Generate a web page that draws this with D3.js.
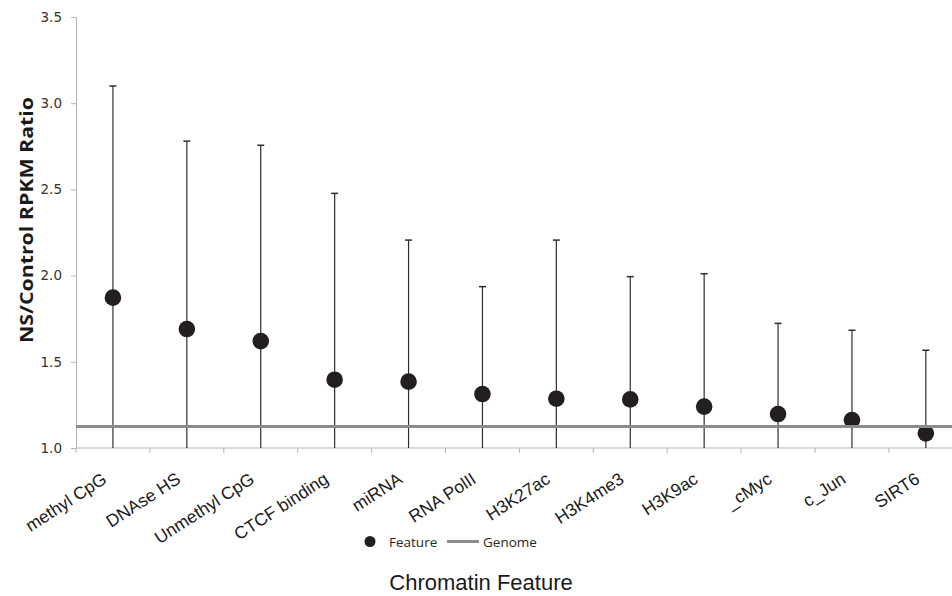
<!DOCTYPE html>
<html>
<head>
<meta charset="utf-8">
<script src="https://cdn.jsdelivr.net/npm/d3@7"></script>
<style>
  body { margin: 0; background: #fff; }
  svg { display: block; }
</style>
</head>
<body>
<div id="graph"></div>
<script>
// Datos
const features = ["methyl CpG", "DNAse HS", "Unmethyl CpG", "CTCF binding", "miRNA", "RNA PolII",
  "H3K27ac", "H3K4me3", "H3K9ac", "_cMyc", "c_Jun", "SIRT6"]
const ratios = [1.872, 1.69, 1.62, 1.396, 1.385, 1.313, 1.286, 1.282, 1.24, 1.197, 1.162, 1.085]
const errorTop = [3.10, 2.78, 2.756, 2.477, 2.206, 1.936, 2.206, 1.994, 2.011, 1.723, 1.683, 1.567]
const genomeRatio = 1.125
const yTicks = [1.0, 1.5, 2.0, 2.5, 3.0, 3.5]

const dimensions = { width: 952, height: 596 }
const margin = { left: 76, top: 17, bottom: 148 }
const bandWidth = 73.9

const svg = d3.select("#graph")
  .append("svg")
    .attr("width", dimensions.width)
    .attr("height", dimensions.height)

// Escalas
const xScale = d3.scaleBand()
  .domain(features)
  .range([margin.left, margin.left + bandWidth * features.length])
  .padding(0)

const yScale = d3.scaleLinear()
  .domain([1.0, 3.5])
  .range([dimensions.height - margin.bottom, margin.top])

const y0 = yScale(1.0)
const cx = d => xScale(d) + xScale.bandwidth() / 2

// Eje Y
const yAxis = svg.append("g")
  .attr("transform", `translate(${margin.left},0)`)
  .call(d3.axisLeft(yScale).tickValues(yTicks).tickFormat(d3.format(".1f")).tickSize(5).tickPadding(9))
yAxis.select(".domain").attr("stroke", "#b5b5b5")
yAxis.selectAll(".tick line").attr("stroke", "#b5b5b5")
yAxis.selectAll(".tick text")
  .attr("font-family", "'DejaVu Sans', sans-serif")
  .attr("font-size", 13.5)
  .attr("fill", "#333")

// Eje X (línea y marcas entre categorías)
const xAxis = svg.append("g")
xAxis.append("line")
  .attr("x1", margin.left).attr("x2", xScale.range()[1])
  .attr("y1", y0).attr("y2", y0)
  .attr("stroke", "#b5b5b5")
xAxis.selectAll("line.tick")
  .data(features.map(d => xScale(d)).concat([xScale.range()[1]]))
  .join("line")
    .attr("class", "tick")
    .attr("x1", d => d).attr("x2", d => d)
    .attr("y1", y0).attr("y2", y0 + 5)
    .attr("stroke", "#b5b5b5")

// Etiquetas rotadas
svg.append("g")
  .selectAll("text")
  .data(features)
  .join("text")
    .attr("transform", d => `translate(${cx(d) - 5},${y0 + 34}) rotate(-33)`)
    .attr("text-anchor", "end")
    .attr("font-family", "Arial, 'Liberation Sans', sans-serif")
    .attr("font-size", 17.5)
    .attr("fill", "#1a1a1a")
    .text(d => d)

// Barras de error
const bars = svg.append("g")
bars.selectAll("line.stem")
  .data(features)
  .join("line")
    .attr("class", "stem")
    .attr("x1", cx)
    .attr("x2", cx)
    .attr("y1", y0)
    .attr("y2", (_, i) => yScale(errorTop[i]))
    .attr("stroke", "#2e2e2e")
    .attr("stroke-width", 1.2)
bars.selectAll("line.cap")
  .data(features)
  .join("line")
    .attr("class", "cap")
    .attr("x1", d => cx(d) - 3.5)
    .attr("x2", d => cx(d) + 3.5)
    .attr("y1", (_, i) => yScale(errorTop[i]))
    .attr("y2", (_, i) => yScale(errorTop[i]))
    .attr("stroke", "#2e2e2e")
    .attr("stroke-width", 1.5)

// Puntos
svg.append("g")
  .selectAll("circle")
  .data(features)
  .join("circle")
    .attr("cx", cx)
    .attr("cy", (_, i) => yScale(ratios[i]))
    .attr("r", 8.3)
    .attr("fill", "#231f20")

// Línea del genoma (encima de los puntos)
svg.append("line")
  .attr("x1", margin.left).attr("x2", xScale.range()[1])
  .attr("y1", yScale(genomeRatio)).attr("y2", yScale(genomeRatio))
  .attr("stroke", "#8c8c8c")
  .attr("stroke-width", 3)

// Título eje Y
svg.append("text")
  .attr("transform", `translate(26,${(97 + 343) / 2}) rotate(-90)`)
  .attr("text-anchor", "middle")
  .attr("dominant-baseline", "central")
  .attr("font-family", "'Open Sans', 'Liberation Sans', sans-serif")
  .attr("font-weight", "bold")
  .attr("font-size", 17)
  .attr("textLength", 246)
  .attr("lengthAdjust", "spacingAndGlyphs")
  .attr("fill", "#1a1a1a")
  .text("NS/Control RPKM Ratio")

// Leyenda
const legend = svg.append("g")
legend.append("circle")
  .attr("cx", 370).attr("cy", 541.5).attr("r", 5.5)
  .attr("fill", "#231f20")
legend.append("text")
  .attr("x", 389).attr("y", 546.5)
  .attr("font-family", "'Open Sans', 'Liberation Sans', sans-serif")
  .attr("font-size", 13.5)
  .attr("fill", "#262626")
  .text("Feature")
legend.append("line")
  .attr("x1", 447).attr("x2", 479)
  .attr("y1", 541.5).attr("y2", 541.5)
  .attr("stroke", "#8c8c8c")
  .attr("stroke-width", 3)
legend.append("text")
  .attr("x", 483).attr("y", 546.5)
  .attr("font-family", "'Open Sans', 'Liberation Sans', sans-serif")
  .attr("font-size", 13.5)
  .attr("fill", "#262626")
  .text("Genome")

// Título eje X
svg.append("text")
  .attr("x", 481).attr("y", 590)
  .attr("text-anchor", "middle")
  .attr("font-family", "Arial, 'Liberation Sans', sans-serif")
  .attr("font-size", 22)
  .attr("fill", "#1a1a1a")
  .text("Chromatin Feature")
</script>
</body>
</html>
